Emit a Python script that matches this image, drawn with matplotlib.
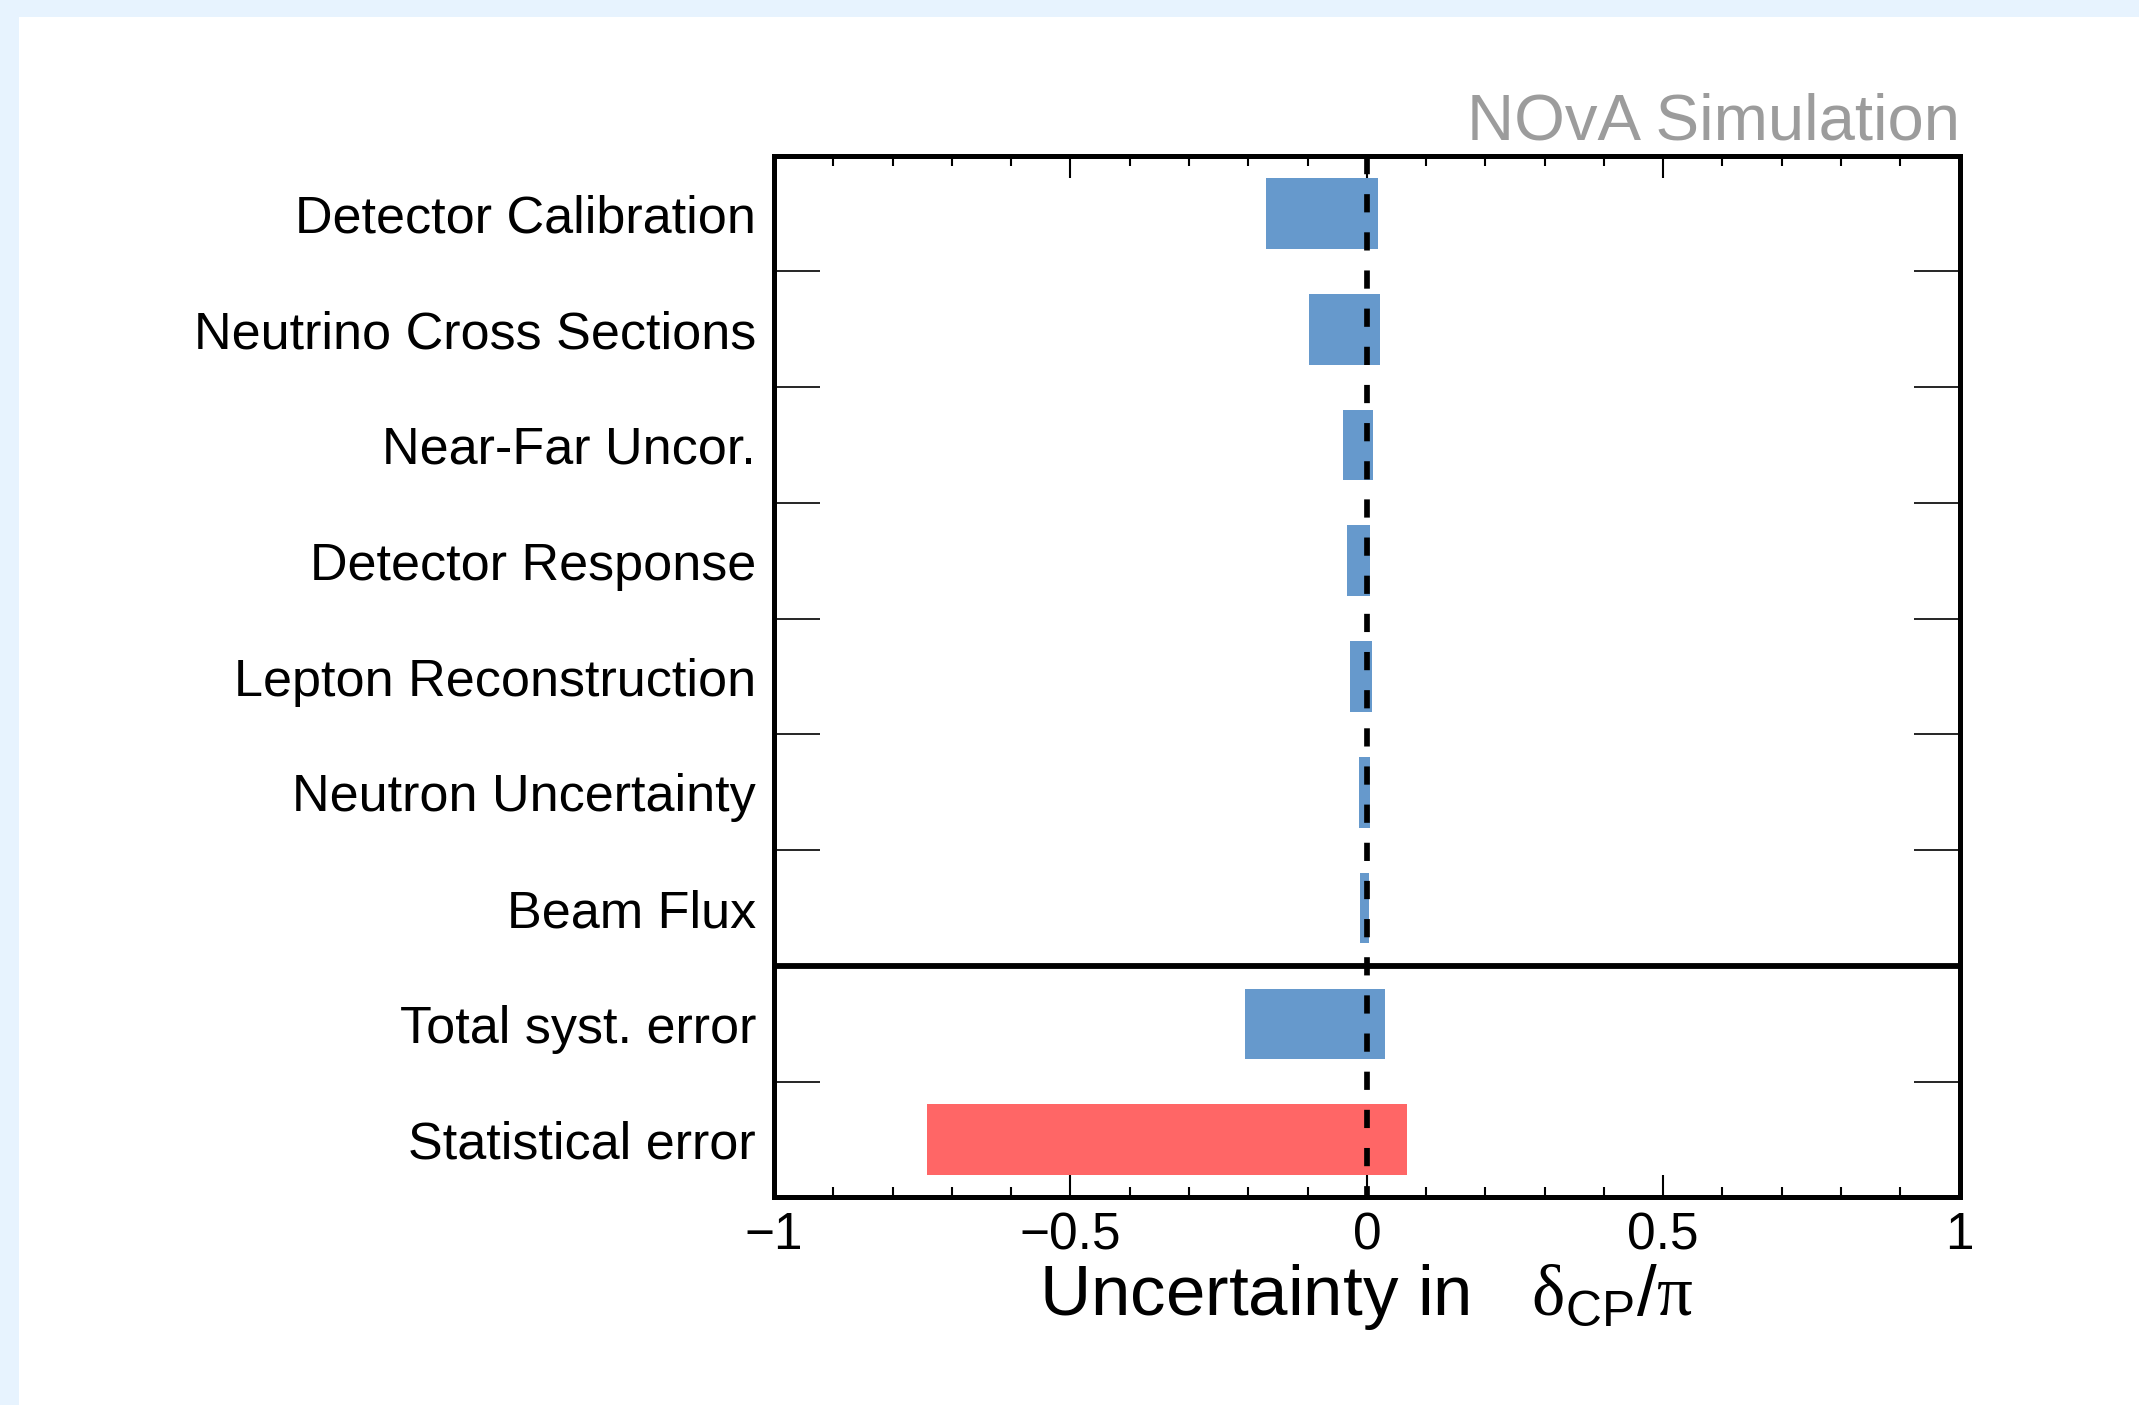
import matplotlib
matplotlib.use("Agg")
import matplotlib.pyplot as plt
from matplotlib.patches import Rectangle
from matplotlib.ticker import MultipleLocator, FixedLocator, NullFormatter
import numpy as np

# systematic / statistical uncertainty breakdown, in units of pi
labels = [
    "Detector Calibration",
    "Neutrino Cross Sections",
    "Near-Far Uncor.",
    "Detector Response",
    "Lepton Reconstruction",
    "Neutron Uncertainty",
    "Beam Flux",
    "Total syst. error",
    "Statistical error",
]
lower = [-0.170, -0.098, -0.040, -0.034, -0.029, -0.014, -0.011, -0.205, -0.742]
upper = [0.019, 0.022, 0.010, 0.005, 0.008, 0.006, 0.003, 0.031, 0.067]
colors = ["#6699cc"] * 8 + ["#ff6666"]

xticks = [-1, -0.5, 0, 0.5, 1]
xtick_labels = ["\u22121", "\u22120.5", "0", "0.5", "1"]

plt.rcParams["font.family"] = ["Liberation Sans", "DejaVu Sans"]
plt.rcParams["mathtext.fontset"] = "custom"
plt.rcParams["mathtext.rm"] = "Liberation Serif"
plt.rcParams["mathtext.sf"] = "Liberation Sans"

fig = plt.figure(figsize=(21.39, 14.05), dpi=100, facecolor="#e7f3fe")
fig.add_artist(Rectangle((19 / 2139, 0), 1, 1 - 17 / 1405, transform=fig.transFigure,
                         facecolor="white", edgecolor="none", zorder=-1))

ax = fig.add_axes([0.3619, 0.1477, 0.5542, 0.7416])

n = len(labels)
ypos = np.arange(n) + 0.5
lo = np.array(lower)
hi = np.array(upper)
ax.barh(ypos, hi - lo, left=lo, height=0.61, color=colors, edgecolor="none", zorder=2)

# dashed zero line, drawn from the top down
ax.plot([0, 0], [0, n], color="black", lw=4.1, linestyle=(0, (3.2, 3.5)),
        solid_capstyle="butt", dash_capstyle="butt", zorder=3)

# separator between individual systematics and totals
ax.axhline(7, color="black", lw=4.2, zorder=4)

ax.set_xlim(-1, 1)
ax.set_ylim(n, 0)

for s in ax.spines.values():
    s.set_linewidth(3.6)
    s.set_zorder(5)

ax.set_xticks(xticks)
ax.set_xticklabels(xtick_labels, fontsize=37)
ax.xaxis.set_minor_locator(MultipleLocator(0.1))
ax.tick_params(axis="x", which="major", direction="in", length=16, width=1.5,
               top=True, bottom=True, pad=10)
ax.tick_params(axis="x", which="minor", direction="in", length=7.5, width=1.5,
               top=True, bottom=True)

# row boundaries as major ticks, category names on minor ticks at row centres
ax.yaxis.set_major_locator(FixedLocator([1, 2, 3, 4, 5, 6, 8]))
ax.yaxis.set_major_formatter(NullFormatter())
ax.yaxis.set_minor_locator(FixedLocator(ypos))
ax.set_yticklabels(labels, minor=True, fontsize=37.5)
ax.tick_params(axis="y", which="major", direction="in", length=33, width=1.2,
               left=True, right=True)
ax.tick_params(axis="y", which="minor", length=0, pad=13)

fig.text(0.6387, 1 - 1315 / 1405,
         "Uncertainty in   $\\mathrm{\\delta}_{\\mathsf{CP}}\\mathsf{/}\\mathrm{\\pi}$",
         fontsize=51, ha="center", va="baseline")

fig.text(1960 / 2139, 1 - 139 / 1405, "NOvA Simulation", fontsize=47,
         color="#9c9c9c", ha="right", va="baseline")

fig.savefig("out.png", dpi=100, facecolor=fig.get_facecolor())
